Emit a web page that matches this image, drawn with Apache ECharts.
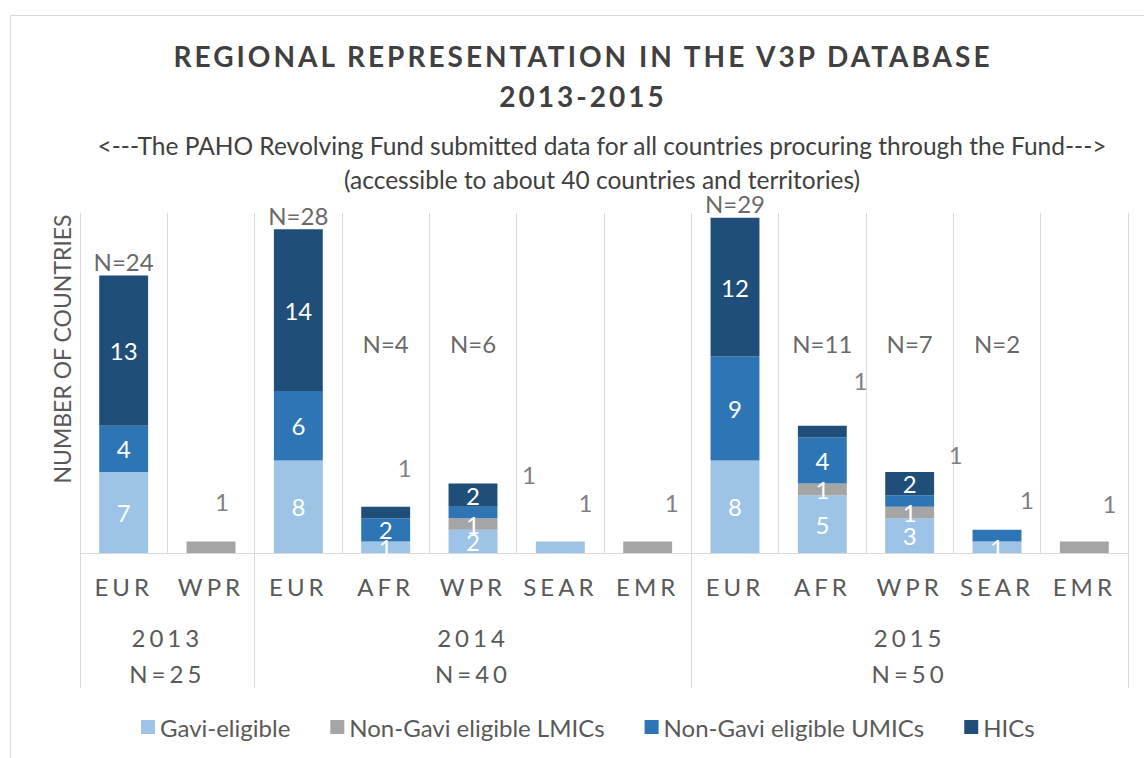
<!DOCTYPE html>
<html>
<head>
<meta charset="utf-8">
<title>Regional representation in the V3P database</title>
<script src="https://cdn.jsdelivr.net/npm/echarts@6/dist/echarts.min.js"></script>
<style>
  html, body { margin: 0; padding: 0; background: #fff; }
  #chart { width: 1144px; height: 758px; }
  /* excel-style letter spacing, svg renderer only */
  #chart text[style*="ls-title"] { letter-spacing: 3px; }
  #chart text[style*="ls-axis"] { letter-spacing: 4px; }
</style>
</head>
<body>
<div id="chart"></div>
<script>
// regions per year (2013: 2, 2014: 5, 2015: 5)
var categories = ['EUR', 'WPR', 'EUR', 'AFR', 'WPR', 'SEAR', 'EMR', 'EUR', 'AFR', 'WPR', 'SEAR', 'EMR']
var yearLabels = ['2013\nN=25', '2014\nN=40', '2015\nN=50']
var yearGroupSizes = [2, 5, 5]

var gaviEligible = [7, 0, 8, 1, 2, 1, 0, 8, 5, 3, 1, 0]
var nonGaviLMICs = [0, 1, 0, 0, 1, 0, 1, 0, 1, 1, 0, 1]
var nonGaviUMICs = [4, 0, 6, 2, 1, 0, 0, 9, 4, 1, 1, 0]
var hics = [13, 0, 14, 1, 2, 0, 0, 12, 1, 2, 0, 0]
var nLabels = ['N=24', '', 'N=28', 'N=4', 'N=6', '', '', 'N=29', 'N=11', 'N=7', 'N=2', '']

var FONT = 'Lato'
var GRID_LINE = '#d9d9d9'

// labels that were dragged off their segment in the original workbook
var floatOffsets = {
  'lmic1': [11, -46],
  'hic3': [19, -45],
  'umic4': [56, -38],
  'gavi5': [25, -45],
  'lmic6': [24, -45],
  'hic8': [38, -51],
  'umic9': [46, -46],
  'umic10': [30, -36],
  'lmic11': [25, -44]
}

// group boundaries / centres on the 0..12 helper axis
var groupEdges = [0]
var groupCentres = []
yearGroupSizes.forEach(function(n) {
  var start = groupEdges[groupEdges.length - 1]
  groupCentres.push(start + n / 2)
  groupEdges.push(start + n)
})

var totals = categories.map(function(c, i) {
  return gaviEligible[i] + nonGaviLMICs[i] + nonGaviUMICs[i] + hics[i]
})
// short bars get their N label lifted to a common height
var N_LABEL_FLOOR = 16.9

function segData(values, key) {
  return values.map(function(v, i) {
    var off = floatOffsets[key + i]
    if (off) {
      return { value: v, label: { offset: off, color: '#7f7f7f' }}
    }
    return v
  })
}

function barSeries(name, values, key, color) {
  return {
    name: name,
    type: 'bar',
    stack: 'total',
    barCategoryGap: '44%',
    itemStyle: { color: color },
    label: {
      show: true,
      position: 'inside',
      color: '#fff',
      fontFamily: FONT,
      fontSize: 24,
      formatter: function(p) { return p.value ? p.value : '' }
    },
    data: segData(values, key)
  }
}

var chart = echarts.init(document.getElementById('chart'), null, { renderer: 'svg' })

var option = {
  backgroundColor: '#fff',
  animation: false,
  title: [{
    text: 'REGIONAL REPRESENTATION IN THE V3P DATABASE\n2013-2015',
    left: 583,
    top: 36,
    padding: 0,
    textAlign: 'center',
    textStyle: {
      fontFamily: FONT + ', ls-title',
      fontWeight: 'bold',
      fontSize: 28,
      lineHeight: 40,
      color: '#404040'
    }
  }, {
    text: '<---The PAHO Revolving Fund submitted data for all countries procuring through the Fund--->\n(accessible to about 40 countries and territories)',
    left: 602,
    top: 128,
    padding: 0,
    textAlign: 'center',
    textStyle: {
      fontFamily: FONT,
      fontWeight: 'normal',
      fontSize: 24.5,
      lineHeight: 34,
      color: '#404040'
    }
  }],
  legend: {
    data: ['Gavi-eligible', 'Non-Gavi eligible LMICs', 'Non-Gavi eligible UMICs', 'HICs'],
    left: 136,
    top: 710,
    icon: 'rect',
    itemWidth: 14,
    itemHeight: 14,
    itemGap: 40,
    textStyle: { fontFamily: FONT, fontSize: 24, color: '#595959' }
  },
  grid: { left: 80, top: 213, width: 1048, height: 340 },
  xAxis: [{
    type: 'category',
    position: 'bottom',
    data: categories,
    axisLine: { lineStyle: { color: GRID_LINE }},
    axisTick: { show: false },
    splitLine: { show: true, lineStyle: { color: GRID_LINE }},
    axisLabel: {
      interval: 0,
      margin: 21,
      fontFamily: FONT + ', ls-axis',
      fontSize: 24,
      color: '#595959'
    }
  }, {
    type: 'value',
    position: 'bottom',
    min: 0,
    max: categories.length,
    axisLine: { show: false },
    splitLine: { show: false },
    axisTick: {
      show: true,
      customValues: groupEdges,
      length: 135,
      lineStyle: { color: GRID_LINE }
    },
    axisLabel: {
      customValues: groupCentres,
      margin: 66,
      lineHeight: 36,
      fontFamily: FONT + ', ls-axis',
      fontSize: 24,
      color: '#595959',
      formatter: function(v) {
        var idx = groupCentres.indexOf(v)
        return idx >= 0 ? yearLabels[idx] : ''
      }
    }
  }],
  yAxis: {
    type: 'value',
    min: 0,
    max: 29.4,
    show: false
  },
  graphic: [{
    type: 'rect',
    silent: true,
    shape: { x: 10.5, y: 15.5, width: 1200, height: 800 },
    style: { fill: 'none', stroke: GRID_LINE, lineWidth: 1 }
  }, {
    type: 'text',
    silent: true,
    x: 62,
    y: 349,
    rotation: Math.PI / 2,
    style: {
      text: 'NUMBER OF COUNTRIES',
      font: '23px ' + FONT,
      fill: '#595959',
      textAlign: 'center',
      textVerticalAlign: 'middle'
    }
  }],
  series: [
    barSeries('Gavi-eligible', gaviEligible, 'gavi', '#9dc3e6'),
    barSeries('Non-Gavi eligible LMICs', nonGaviLMICs, 'lmic', '#a5a5a5'),
    barSeries('Non-Gavi eligible UMICs', nonGaviUMICs, 'umic', '#2e75b6'),
    barSeries('HICs', hics, 'hic', '#1f4e79'),
    {
      name: 'N',
      type: 'scatter',
      symbolSize: 0,
      silent: true,
      z: 5,
      label: {
        show: true,
        position: 'top',
        distance: 2,
        fontFamily: FONT,
        fontSize: 24,
        color: '#404040',
        formatter: function(p) { return nLabels[p.dataIndex] }
      },
      data: totals.map(function(t) { return Math.max(t, N_LABEL_FLOOR) })
    }
  ]
}

chart.setOption(option)
</script>
</body>
</html>
